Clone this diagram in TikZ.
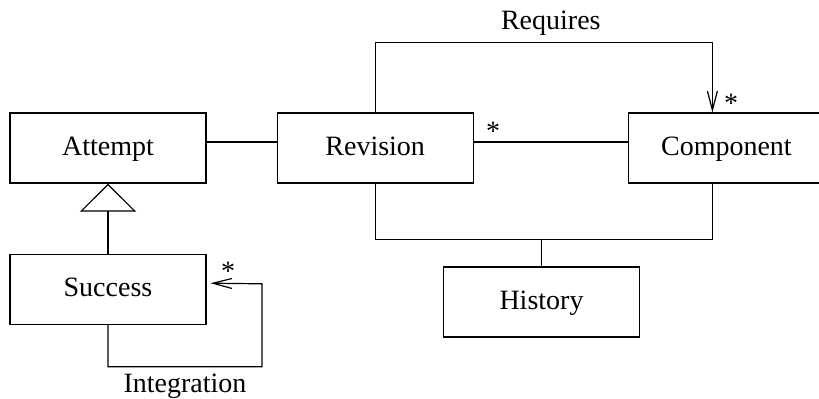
\documentclass[tikz,border=0pt]{standalone}
\usepackage{fontspec}
\setmainfont{Liberation Serif}
\usetikzlibrary{positioning,arrows.meta,calc}

\begin{document}
\begin{tikzpicture}[x=0.5pt, y=-0.5pt, line width=0.6pt,
	cls/.style={rectangle, draw, minimum width=98pt, minimum height=35pt, text height=10pt, text depth=3pt, font=\fontsize{14}{16}\selectfont},
	mult/.style={font=\fontsize{14}{16}\selectfont, inner sep=0pt},
	barb/.style={-{Straight Barb[length=9.5pt, width=5pt]}},
	isa/.style={-{Triangle[open, length=14pt, width=28pt]}}]

	\useasboundingbox (0,0) rectangle (819,398);

	\node[cls] (attempt) at (108,148) {Attempt};
	\node[cls, right=35pt of attempt] (revision) {Revision};
	\node[cls, right=77pt of revision] (component) {Component};
	\node[cls, below=35pt of attempt] (success) {Success};
	\node[cls] (history) at (541.5,302) {History};

	\draw ([yshift=3pt]attempt.east) -- ([yshift=3pt]revision.west);
	\draw ([yshift=3pt]revision.east) -- ([yshift=3pt]component.west);
	\node[mult] (mrc) at (493,131) {*};

	\draw[isa] (success) -- (attempt);

	% Requires
	\draw[barb] (revision.north) -- ++(0,-70) -| node[above, pos=0.25, xshift=3.5pt, font=\fontsize{14}{16}\selectfont] (req) {Requires} ([xshift=-7pt]component.north);
	\node[mult] (mreq) at (731,103) {*};

	% History
	\draw (revision.south) -- ++(0,56) coordinate (hjoin) -| ([xshift=-7pt]component.south);
	\draw (history.north) -- (history.north |- hjoin);

	% Integration
	\draw[barb] (success.south) -- ++(0,42) -| node[below, pos=0.25, font=\fontsize{14}{16}\selectfont] (integ) {Integration} ++(154,-83) -- ([yshift=3pt, xshift=2pt]success.east);
	\node[mult] (mint) at (228,271) {*};

\end{tikzpicture}
\end{document}
